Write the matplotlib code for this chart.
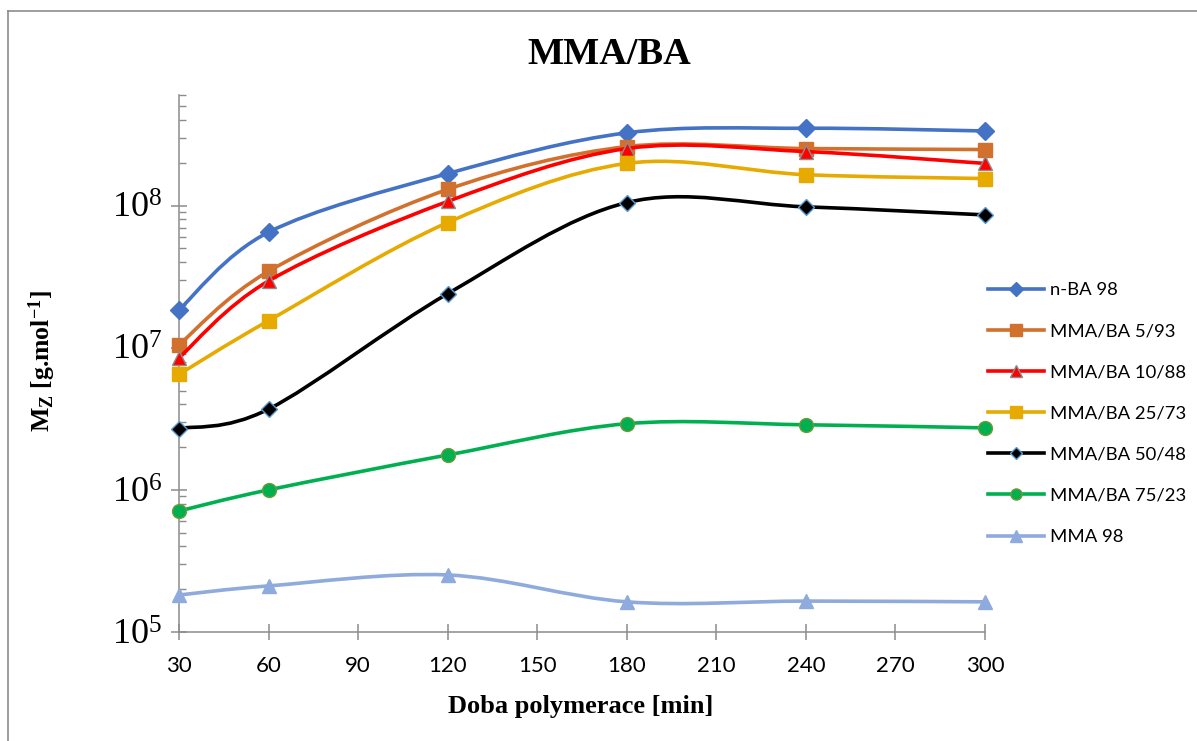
import numpy as np
import matplotlib
matplotlib.use("Agg")
import matplotlib.pyplot as plt
from matplotlib.path import Path
from matplotlib.patches import PathPatch
from matplotlib.lines import Line2D
from matplotlib.ticker import FixedLocator, LogLocator, FuncFormatter, NullFormatter

plt.rcParams["mathtext.default"] = "regular"

# ---- data ----
t_min = [30, 60, 120, 180, 240, 300]

nBA_98 = [1.85e7, 6.5e7, 1.68e8, 3.25e8, 3.5e8, 3.35e8]
mma_ba_5_93 = [1.05e7, 3.45e7, 1.30e8, 2.6e8, 2.52e8, 2.48e8]
mma_ba_10_88 = [8.5e6, 2.95e7, 1.07e8, 2.52e8, 2.4e8, 1.98e8]
mma_ba_25_73 = [6.5e6, 1.55e7, 7.6e7, 1.98e8, 1.65e8, 1.55e8]
mma_ba_50_48 = [2.7e6, 3.7e6, 2.4e7, 1.05e8, 9.8e7, 8.6e7]
mma_ba_75_23 = [7.1e5, 1.0e6, 1.76e6, 2.92e6, 2.87e6, 2.73e6]
mma_98 = [1.82e5, 2.11e5, 2.52e5, 1.63e5, 1.65e5, 1.63e5]

labels = ["n-BA 98", "MMA/BA 5/93", "MMA/BA 10/88", "MMA/BA 25/73",
          "MMA/BA 50/48", "MMA/BA 75/23", "MMA 98"]
series = [nBA_98, mma_ba_5_93, mma_ba_10_88, mma_ba_25_73,
          mma_ba_50_48, mma_ba_75_23, mma_98]

# style: line colour, marker, marker size, face, edge
styles = [
    ("#4472C4", "D", 9, "#4472C4", "#4472C4"),
    ("#D2702D", "s", 10.5, "#D2702D", "#D2702D"),
    ("#FF0000", "^", 10, "#FF0000", "#8C8C8C"),
    ("#E6AA00", "s", 10.5, "#E6AA00", "#E6AA00"),
    ("#000000", "D", 8, "#000000", "#5B9BD5"),
    ("#00B050", "o", 10, "#00B050", "#6F9A3A"),
    ("#8FAADC", "^", 10, "#8FAADC", "#8FAADC"),
]


def smooth_path(x, y):
    # Excel-like smoothed line: cubic bezier through the points (log y space)
    lx = np.array(x, float)
    ly = np.log10(np.array(y, float))
    n = len(lx)
    verts = [(lx[0], ly[0])]
    codes = [Path.MOVETO]
    for i in range(n - 1):
        a = i - 1 if i > 0 else 0
        b = i + 2 if i + 2 < n else n - 1
        c1 = (lx[i] + (lx[i + 1] - lx[a]) / 6, ly[i] + (ly[i + 1] - ly[a]) / 6)
        c2 = (lx[i + 1] - (lx[b] - lx[i]) / 6, ly[i + 1] - (ly[b] - ly[i]) / 6)
        verts += [c1, c2, (lx[i + 1], ly[i + 1])]
        codes += [Path.CURVE4] * 3
    verts = [(vx, 10 ** vy) for vx, vy in verts]
    return Path(verts, codes)


fig = plt.figure(figsize=(11.97, 7.41), dpi=100)
ax = fig.add_axes([179 / 1197, 1 - 632 / 741, (985 - 179) / 1197, (632 - 95) / 741])
ax.set_yscale("log")

handles = []
for i, (vals, lab, st) in enumerate(zip(series, labels, styles)):
    col, mk, ms, fc, ec = st
    z = 3 + i * 0.1
    patch = PathPatch(smooth_path(t_min, vals), fill=False, edgecolor=col, lw=2.6,
                      capstyle="round", joinstyle="round", zorder=z)
    ax.add_patch(patch)
    ax.plot(t_min, vals, linestyle="none", marker=mk, ms=ms, mfc=fc, mec=ec,
            mew=1.0, zorder=z + 0.05, clip_on=False)
    handles.append(Line2D([], [], color=col, lw=2.6, marker=mk, ms=ms * 0.8,
                          mfc=fc, mec=ec, mew=1.0))

ax.set_xlim(30, 300)
ax.set_ylim(1e5, 6e8)
ax.set_xticks(range(30, 301, 30))
ax.yaxis.set_major_locator(FixedLocator([1e5, 1e6, 1e7, 1e8]))
ax.yaxis.set_minor_locator(LogLocator(base=10, subs=np.arange(2, 10)))
ax.yaxis.set_minor_formatter(NullFormatter())
ax.yaxis.set_major_formatter(FuncFormatter(lambda v, p: r"$10^{%d}$" % round(np.log10(v))))

for s in ["top", "right"]:
    ax.spines[s].set_visible(False)
for s in ["left", "bottom"]:
    ax.spines[s].set_color("#8C8C8C")
    ax.spines[s].set_linewidth(1.1)

ax.tick_params(axis="both", which="major", direction="inout", length=12,
               width=1.1, color="#8C8C8C")
ax.tick_params(axis="y", which="minor", direction="in", length=5,
               width=1.0, color="#8C8C8C")
ax.tick_params(axis="x", labelsize=16, pad=11)
ax.tick_params(axis="y", labelsize=26, pad=6)
for lb in ax.get_xticklabels():
    lb.set_fontfamily("Lato")
for lb in ax.get_yticklabels():
    lb.set_fontfamily("Liberation Serif")

fig.text(0.509, 1 - 55 / 741, "MMA/BA", ha="center", va="center",
         fontsize=27.5, fontweight="bold", family="Liberation Serif")
fig.text(0.485, 1 - 707 / 741, "Doba polymerace [min]", ha="center", va="center",
         fontsize=19, fontweight="bold", family="Liberation Serif")
fig.text(0.035, 0.513, r"M$_{Z}$ [g.mol$^{-1}$]", ha="center",
         va="center", rotation=90, fontsize=18.5, fontweight="bold",
         family="Liberation Serif")

fig.legend(handles, labels, loc="upper left", bbox_to_anchor=(979 / 1197, 1 - 273 / 741),
           frameon=False, prop={"family": "Lato", "size": 13.3},
           labelspacing=1.36, handlelength=3.0, handletextpad=0.35, borderpad=0)

# chart area border (top/left only visible)
fig.add_artist(Line2D([8 / 1197, 1], [1 - 11 / 741, 1 - 11 / 741],
                      transform=fig.transFigure, color="#8C8C8C", lw=1.2))
fig.add_artist(Line2D([8 / 1197, 8 / 1197], [0, 1 - 11 / 741],
                      transform=fig.transFigure, color="#8C8C8C", lw=1.2))

fig.savefig("out.png", dpi=100)
